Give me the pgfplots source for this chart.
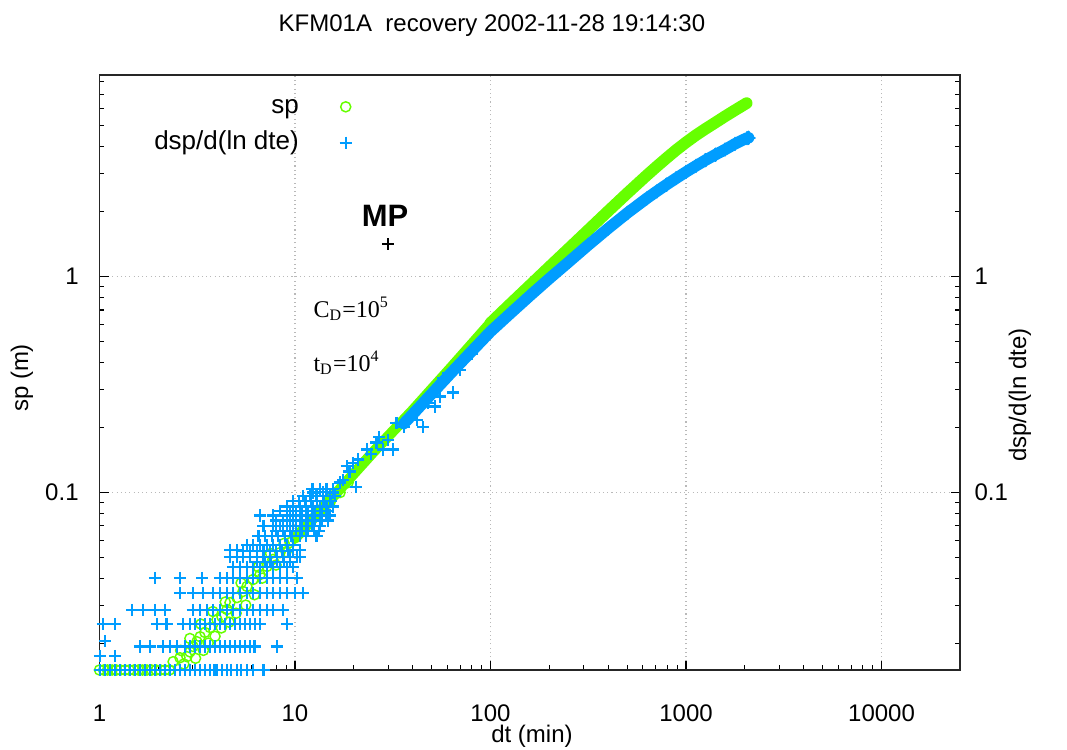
\documentclass[border=0pt]{standalone}
\usepackage{fontspec}
\setmainfont{Liberation Sans}
\newfontfamily\seriffont{Liberation Serif}
\usepackage{pgfplots}
\pgfplotsset{compat=1.18}
\definecolor{spgreen}{HTML}{66FF00}
\definecolor{dblue}{HTML}{009DFF}
\begin{document}
\begin{tikzpicture}
\useasboundingbox (-37.31pt,-29.625pt) rectangle (362.81pt,251.25pt);
\begin{axis}[
  at={(0,0)}, anchor=south west,
  scale only axis, width=322.69pt, height=223.125pt,
  xmode=log, ymode=log,
  xmin=1, xmax=25200, ymin=0.015, ymax=8.6,
  log ticks with fixed point,
  /pgf/number format/1000 sep={},
  /pgf/number format/assume math mode=true,
  tick align=inside,
  xtick pos=bottom,
  ytick pos=both, yticklabel pos=left,
  major tick length=3.4pt, minor tick length=1.75pt,
  tick style={black, line width=0.4pt},
  axis line style={black!85, line width=0.5pt},
  grid=major,
  major grid style={gray!55, line width=0.4pt, dash pattern=on 0.4pt off 1.2pt},
  tick label style={font=\fontsize{9}{10}\selectfont},
  xticklabel style={yshift=-9.5pt},
  yticklabel style={xshift=-4.3pt},
  clip=false,
  xlabel={dt (min)},
  xlabel style={at={(axis description cs:0.5026,-0.1120)}, anchor=center, font=\fontsize{9}{10}\selectfont},
  ylabel={sp (m)},
  ylabel style={at={(axis description cs:-0.0901,0.4908)}, anchor=center, font=\fontsize{9}{10}\selectfont},
  title={KFM01A\ \ recovery 2002-11-28 19:14:30},
  every axis title shift=0pt,
  title style={at={(axis description cs:0.4561,1.0723)}, anchor=base, yshift=0pt, font=\fontsize{9}{10}\selectfont},
  legend style={draw=none, fill=none, at={(axis description cs:0.2939,0.9743)}, anchor=north east,
    inner sep=0pt, font=\fontsize{9.75}{11}\selectfont, row sep=1.5pt,
    nodes={inner sep=1pt, text height=7.5pt, text depth=2.5pt},
    /tikz/every odd column/.append style={column sep=14.3pt}},
  legend plot pos=right, legend cell align=right,
]
% sp: early circles
\addplot[only marks, mark=o, mark size=1.9pt, spgreen, mark options={line width=0.55pt}] table[row sep=\\] {
dt v\\
1.0 0.015\\ 1.05 0.015\\ 1.1 0.015\\ 1.16 0.015\\ 1.22 0.015\\ 1.28 0.015\\ 1.35 0.015\\ 1.42 0.015\\
1.5 0.015\\ 1.58 0.015\\ 1.66 0.015\\ 1.75 0.015\\ 1.85 0.015\\ 1.95 0.015\\ 2.05 0.015\\ 2.16 0.015\\ 2.28 0.015\\
2.38 0.0164\\ 2.58 0.0171\\ 2.80 0.0173\\ 2.90 0.0182\\ 3.01 0.0193\\ 3.15 0.0203\\ 3.27 0.0214\\ 3.46 0.0224\\
3.68 0.0236\\ 3.99 0.0257\\ 4.23 0.0265\\ 4.49 0.0286\\ 4.65 0.0308\\ 5.05 0.0325\\ 5.42 0.0347\\ 5.68 0.0366\\
6.10 0.0394\\ 6.62 0.0415\\ 7.19 0.0453\\ 7.71 0.0488\\ 8.38 0.0525\\ 9.43 0.0585\\ 10.6 0.065\\ 11.9 0.0724\\
13.4 0.0805\\ 15.1 0.0896\\ 17.0 0.0997\\ 18.7 0.111\\
2.7 0.0160\\ 3.1 0.0170\\ 3.4 0.0185\\ 3.6 0.0200\\ 3.9 0.0215\\ 4.2 0.0235\\ 4.6 0.0250\\ 5.0 0.0275\\
5.6 0.0300\\ 6.2 0.0335\\ 2.6 0.0185\\ 2.9 0.0210\\ 3.3 0.0245\\ 3.8 0.0280\\ 4.4 0.031\\ 5.3 0.038\\
6.5 0.045\\ 7.5 0.052\\ 8.8 0.058\\ 6.8 0.040\\ 8.0 0.046\\ 9.0 0.053\\
};
\addlegendentry{sp}
% sp: dense band
\addplot[spgreen, line width=4.0pt, line cap=round, line join=round, forget plot] table[row sep=\\] {
dt v\\ 10 0.0611\\ 15.85 0.0966\\ 25.12 0.1535\\ 39.81 0.2388\\ 63.1 0.380\\ 100 0.6095\\
};
\addplot[spgreen, line width=4.4pt, line cap=round, line join=round, forget plot] table[row sep=\\] {
dt v\\ 100 0.6095\\ 125.9 0.7447\\ 158.5 0.9078\\ 199.5 1.107\\ 251.2 1.349\\ 316.2 1.644\\ 398.1 2.004\\
501.2 2.438\\ 631.0 2.951\\ 707.9 3.236\\ 794.3 3.540\\ 891.3 3.864\\ 1000 4.188\\ 1122 4.519\\
1259 4.842\\ 1413 5.176\\ 1585 5.534\\ 1778 5.902\\ 2042 6.368\\
};
% dsp: dense band
\addplot[dblue, line width=4.3pt, line cap=round, line join=round, forget plot,
  mark=+, mark size=2.3pt, mark options={line width=0.85pt}] table[row sep=\\] {
dt v\\ 36 0.208\\ 39.81 0.229\\ 50.1 0.2868\\ 63.1 0.359\\ 79.4 0.4467\\ 100 0.5559\\ 125.9 0.6730\\
158.5 0.8128\\ 199.5 0.9772\\ 251.2 1.169\\ 316.2 1.400\\ 398.1 1.667\\ 501.2 1.972\\ 631.0 2.307\\
707.9 2.483\\ 794.3 2.667\\ 891.3 2.858\\ 1000 3.055\\ 1122 3.258\\ 1259 3.467\\ 1413 3.673\\
1585 3.882\\ 1778 4.121\\ 2042 4.385\\ 2090 4.40\\
};
% dsp: early scatter
\addplot[only marks, mark=+, mark size=2.3pt, dblue, mark options={line width=0.85pt}] table[row sep=\\] {
dt v\\
1.006 0.015\\ 1.067 0.015\\ 1.132 0.015\\ 1.200 0.015\\ 1.273 0.015\\ 1.350 0.015\\ 1.432 0.015\\ 1.519 0.015\\
1.611 0.015\\ 1.709 0.015\\ 1.812 0.015\\ 1.922 0.015\\ 2.039 0.015\\ 2.163 0.015\\ 2.294 0.015\\ 2.432 0.015\\
2.580 0.015\\ 2.737 0.015\\ 2.903 0.015\\ 3.079 0.015\\ 3.266 0.015\\ 3.46 0.015\\ 3.674 0.015\\ 3.87 0.015\\
4.0 0.015\\ 4.25 0.015\\ 4.49 0.015\\ 4.7 0.015\\ 5.05 0.015\\ 5.3 0.015\\ 5.68 0.015\\ 6.10 0.015\\ 6.9 0.015\\
1.006 0.0174\\ 1.20 0.0174\\ 1.067 0.0204\\
1.611 0.0193\\ 1.812 0.0193\\ 2.11 0.0193\\ 2.294 0.0193\\ 2.50 0.0193\\ 2.737 0.0193\\ 2.903 0.0193\\ 3.079 0.0193\\
3.266 0.0193\\ 3.464 0.0193\\ 3.674 0.0193\\ 3.897 0.0193\\ 4.133 0.0193\\ 4.385 0.0193\\ 4.651 0.0193\\ 4.933 0.0193\\
5.233 0.0193\\ 5.55 0.0193\\ 5.9 0.0193\\ 6.2 0.0193\\ 8.1 0.0193\\
1.04 0.0245\\ 1.20 0.0245\\ 1.97 0.0245\\ 2.2 0.0245\\ 2.67 0.0245\\ 2.903 0.0245\\ 3.079 0.0245\\ 3.266 0.0245\\
3.464 0.0245\\ 3.674 0.0245\\ 3.897 0.0245\\ 4.133 0.0245\\ 4.385 0.0245\\ 4.651 0.0245\\ 4.933 0.0245\\ 5.233 0.0245\\
5.55 0.0245\\ 5.888 0.0245\\ 6.245 0.0245\\ 6.624 0.0245\\ 9.1 0.0245\\
1.47 0.0285\\ 1.67 0.0285\\ 1.92 0.0285\\ 2.16 0.0285\\ 3.0 0.0285\\ 3.266 0.0285\\ 3.55 0.0285\\ 3.81 0.0285\\
4.133 0.0285\\ 4.49 0.0285\\ 4.82 0.0285\\ 5.233 0.0285\\ 5.68 0.0285\\ 6.1 0.0285\\ 6.624 0.0285\\ 7.19 0.0285\\
7.71 0.0285\\ 8.7 0.0285\\
2.58 0.034\\ 3.0 0.034\\ 3.38 0.034\\ 3.81 0.034\\ 4.133 0.034\\ 4.49 0.034\\ 4.82 0.034\\ 5.233 0.034\\
5.68 0.034\\ 6.1 0.034\\ 6.624 0.034\\ 7.19 0.034\\ 7.71 0.034\\ 8.383 0.034\\ 9.1 0.034\\ 10.0 0.034\\ 10.95 0.034\\
1.922 0.040\\ 2.58 0.040\\ 3.35 0.040\\ 4.133 0.040\\ 4.49 0.040\\ 4.82 0.040\\ 5.233 0.040\\ 5.68 0.040\\
6.1 0.040\\ 6.624 0.040\\ 7.19 0.040\\ 7.71 0.040\\ 8.383 0.040\\ 9.1 0.040\\ 10.2 0.040\\
4.82 0.045\\ 5.233 0.045\\ 5.68 0.045\\ 6.1 0.045\\ 6.624 0.045\\ 7.19 0.045\\ 7.71 0.045\\ 8.383 0.045\\
9.1 0.045\\ 9.77 0.045\\
6.4 0.0475\\ 7.0 0.0475\\ 7.5 0.0475\\ 8.1 0.0475\\ 8.8 0.0475\\ 9.4 0.0475\\
4.651 0.050\\ 5.05 0.050\\ 5.42 0.050\\ 5.888 0.050\\ 6.4 0.050\\ 6.9 0.050\\ 7.452 0.050\\ 8.1 0.050\\
8.7 0.050\\ 9.43 0.050\\ 10.2 0.050\\ 10.61 0.050\\
4.651 0.054\\ 5.05 0.054\\ 9.77 0.054\\ 10.61 0.054\\
5.4 0.0535\\ 5.9 0.0535\\ 6.4 0.0535\\ 6.9 0.0535\\ 7.45 0.0535\\ 8.0 0.0535\\ 8.6 0.0535\\ 9.2 0.0535\\
5.68 0.057\\ 6.1 0.057\\ 6.624 0.057\\ 7.19 0.057\\ 7.71 0.057\\ 8.383 0.057\\ 9.1 0.057\\ 9.77 0.057\\
6.5 0.0625\\ 7.025 0.0625\\ 7.6 0.0625\\ 8.2 0.0625\\ 8.89 0.0625\\ 9.6 0.0625\\ 10.61 0.0625\\ 11.4 0.0625\\ 12.9 0.0625\\
8.0 0.066\\ 8.7 0.066\\ 9.4 0.066\\ 10.1 0.066\\ 10.9 0.066\\ 11.7 0.066\\ 12.5 0.066\\ 13.3 0.066\\
6.9 0.070\\ 7.71 0.070\\ 8.383 0.070\\ 9.1 0.070\\ 9.77 0.070\\ 10.61 0.070\\ 11.4 0.070\\ 12.3 0.070\\ 13.42 0.070\\
8.0 0.074\\ 8.7 0.074\\ 9.4 0.074\\ 10.1 0.074\\ 10.9 0.074\\ 11.7 0.074\\ 12.6 0.074\\ 13.8 0.074\\ 14.8 0.074\\
6.624 0.078\\ 7.71 0.078\\ 9.1 0.078\\ 9.77 0.078\\ 10.61 0.078\\ 11.4 0.078\\ 12.3 0.078\\ 13.42 0.078\\ 14.5 0.078\\ 15.1 0.078\\
8.4 0.082\\ 9.4 0.082\\ 10.1 0.082\\ 10.9 0.082\\ 11.7 0.082\\ 12.6 0.082\\ 13.8 0.082\\ 14.8 0.082\\
9.1 0.086\\ 9.77 0.086\\ 10.61 0.086\\ 11.4 0.086\\ 12.3 0.086\\ 13.42 0.086\\ 14.5 0.086\\ 15.6 0.086\\
9.8 0.091\\ 10.5 0.091\\ 11.3 0.091\\ 12.1 0.091\\ 13.0 0.091\\ 14.0 0.091\\ 15.2 0.091\\
10.95 0.096\\ 11.93 0.096\\ 12.9 0.096\\ 13.9 0.096\\ 15.1 0.096\\ 16.0 0.096\\
12.3 0.1035\\ 13.42 0.1035\\ 14.5 0.1035\\ 15.6 0.1035\\
17 0.111\\ 15.6 0.0997\\ 18.4 0.132\\ 19.8 0.137\\ 21 0.142\\ 23.4 0.158\\ 26.1 0.170\\ 28.2 0.158\\
31.7 0.158\\ 33 0.21\\ 41.9 0.217\\ 45 0.20\\ 55 0.278\\ 57 0.34\\ 64.3 0.29\\ 17.6 0.114\\
19 0.125\\ 20.5 0.106\\ 12.4 0.0997\\ 13.9 0.1\\ 24.5 0.15\\ 27 0.18\\ 30 0.175\\ 36 0.2\\
38 0.22\\ 48 0.26\\ 52 0.25\\ 70 0.37\\ 80 0.44\\
};
\addlegendentry{dsp/d(ln dte)}
% MP marker
\addplot[only marks, mark=+, mark size=2.25pt, black, mark options={line width=0.75pt}, forget plot] coordinates {(30,1.41)};
\node[font=\bfseries\fontsize{11.6}{13}\selectfont] at (axis cs:28.9,1.918) {MP};
\node[font=\seriffont\fontsize{9}{10}\selectfont, anchor=base west, inner sep=0pt] at (axis cs:12.36,0.6455) {C\textsubscript{D}=10\textsuperscript{5}};
\node[font=\seriffont\fontsize{9}{10}\selectfont, anchor=base west, inner sep=0pt] at (axis cs:12.36,0.3627) {t\textsubscript{D}=10\textsuperscript{4}};
\end{axis}
\begin{axis}[
  at={(0,0)}, anchor=south west,
  scale only axis, width=322.69pt, height=223.125pt,
  xmode=log, ymode=log,
  xmin=1, xmax=25200, ymin=0.015, ymax=8.6,
  hide x axis, axis y line*=right,
  log ticks with fixed point,
  /pgf/number format/assume math mode=true,
  major tick length=0pt, minor tick length=0pt,
  axis line style={black!85, line width=0.5pt},
  tick label style={font=\fontsize{9}{10}\selectfont},
  yticklabel style={xshift=1.9pt},
  ylabel={dsp/d(ln dte)},
  ylabel style={at={(axis description cs:1.0697,0.4622)}, anchor=center, font=\fontsize{9}{10}\selectfont},
]
\end{axis}
\end{tikzpicture}
\end{document}
